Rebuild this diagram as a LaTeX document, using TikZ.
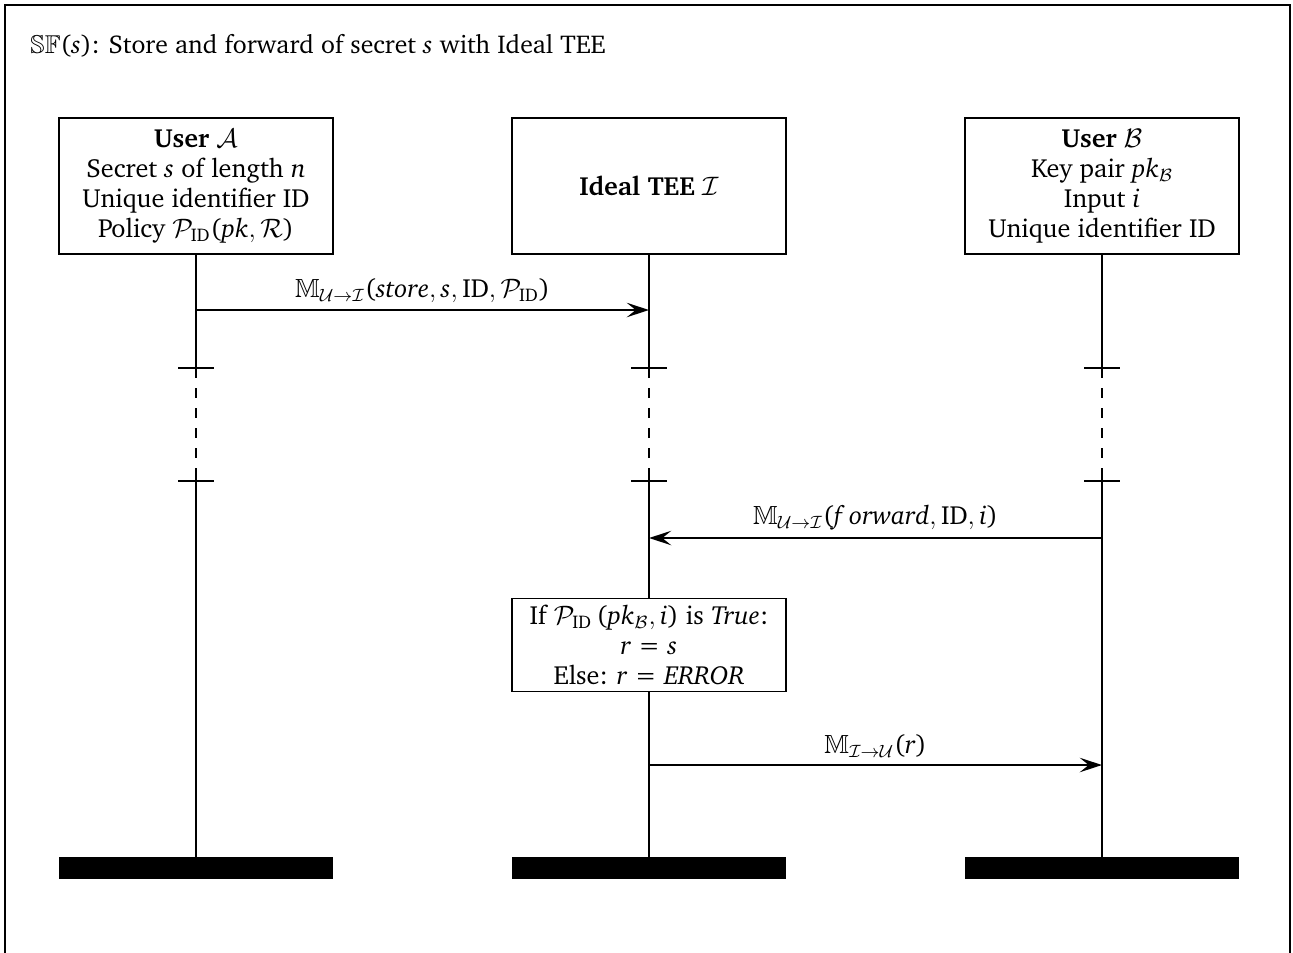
\documentclass[tikz,border=0pt]{standalone}
\usepackage[T1]{fontenc}
\usepackage{charter}
\usepackage{amssymb}
\usetikzlibrary{arrows.meta}

% Charter for upright and italic letters in formulas
\DeclareSymbolFont{operators}{T1}{bch}{m}{n}
\DeclareSymbolFont{chit}{T1}{bch}{m}{it}
\def\chmathletters#1{\ifx#1\relax\else
  \DeclareMathSymbol{#1}{\mathalpha}{chit}{`#1}\expandafter\chmathletters\fi}
\chmathletters abcdefghijklmnopqrstuvwxyzABCDEFGHIJKLMNOPQRSTUVWXYZ\relax

\begin{document}
\begin{tikzpicture}[x=0.45pt, y=-0.45pt,
    every node/.style={font=\fontsize{11.8}{13.5}\selectfont},
    party/.style={draw, line width=0.8pt, align=center, minimum width=123.3pt, minimum height=61.2pt, inner sep=2pt},
    endbar/.style={fill=black, draw=none, minimum width=123.3pt, minimum height=9.5pt, inner sep=0pt},
    lifeline/.style={line width=0.8pt},
    breakline/.style={line width=0.8pt, dash pattern=on 4.5pt off 4.5pt, dash phase=4.5pt},
    tick/.style={line width=0.8pt},
    msg/.style={line width=0.8pt, -{Stealth[length=10pt, width=6.5pt, inset=4pt]}},
    msglabel/.style={above, inner sep=3pt}]

  \useasboundingbox (0,0) rectangle (1293,952);
  \clip (0,0) rectangle (1293,952);

  % outer frame (its lower edge lies below the page)
  \draw[line width=0.8pt] (5,5) rectangle (1290,960);

  % title
  \node[anchor=west, inner sep=0pt, font=\fontsize{11.6}{13}\selectfont] (title) at (30,46)
    {$\mathbb{S}\mathbb{F}(s)$: Store and forward of secret $s$ with Ideal TEE};

  % participants
  \node[party] (A) at (196,186) {\textbf{User} $\mathcal{A}$\\ Secret $s$ of length $n$\\ Unique identifier ID\\ Policy $\mathcal{P}_{\mathrm{ID}}(pk,\mathcal{R})$};
  \node[party] (T) at (649,186) {\textbf{Ideal TEE} $\mathcal{I}$};
  \node[party] (B) at (1102,186) {\textbf{User} $\mathcal{B}$\\ Key pair $pk_{\mathcal{B}}$\\ Input $i$\\ Unique identifier ID};

  % end bars
  \node[endbar] (Aend) at (196,868) {};
  \node[endbar] (Tend) at (649,868) {};
  \node[endbar] (Bend) at (1102,868) {};

  % evaluation box on the TEE lifeline
  \node[draw, line width=0.8pt, align=center, minimum width=123.3pt, inner sep=3pt] (cond) at (649,645)
    {If $\mathcal{P}_{\mathrm{ID}}\,(pk_{\mathcal{B}},i)$ is $True$:\\ $r=s$\\ Else: $r=ERROR$};

  % break points of the lifelines
  \foreach \p/\x in {A/196, T/649, B/1102} {
    \coordinate (\p b1) at (\x,378);
    \coordinate (\p b2) at (\x,472);
    \coordinate (\p t1l) at (\x-18,368);
    \coordinate (\p t1r) at (\x+18,368);
    \coordinate (\p t2l) at (\x-18,481);
    \coordinate (\p t2r) at (\x+18,481);
  }

  % lifelines
  \draw[lifeline] (A.south) -- (Ab1);
  \draw[breakline] (Ab1) -- (Ab2);
  \draw[lifeline] (Ab2) -- (Aend.north);
  \draw[lifeline] (T.south) -- (Tb1);
  \draw[breakline] (Tb1) -- (Tb2);
  \draw[lifeline] (Tb2) -- (cond.north);
  \draw[lifeline] (cond.south) -- (Tend.north);
  \draw[lifeline] (B.south) -- (Bb1);
  \draw[breakline] (Bb1) -- (Bb2);
  \draw[lifeline] (Bb2) -- (Bend.north);

  % break ticks
  \foreach \p in {A,T,B} {
    \draw[tick] (\p t1l) -- (\p t1r);
    \draw[tick] (\p t2l) -- (\p t2r);
  }

  % messages
  \coordinate (m1s) at (196,310);
  \coordinate (m1e) at (649,310);
  \draw[msg] (m1s) -- node[msglabel] (l1) {$\mathbb{M}_{\mathcal{U}\to\mathcal{I}}(store,s,\mathrm{ID},\mathcal{P}_{\mathrm{ID}})$} (m1e);

  \coordinate (m2s) at (1102,538);
  \coordinate (m2e) at (649,538);
  \draw[msg] (m2s) -- node[msglabel] (l2) {$\mathbb{M}_{\mathcal{U}\to\mathcal{I}}(f\,orward,\mathrm{ID},i)$} (m2e);

  \coordinate (m3s) at (649,765);
  \coordinate (m3e) at (1102,765);
  \draw[msg] (m3s) -- node[msglabel] (l3) {$\mathbb{M}_{\mathcal{I}\to\mathcal{U}}(r)$} (m3e);
\end{tikzpicture}
\end{document}
